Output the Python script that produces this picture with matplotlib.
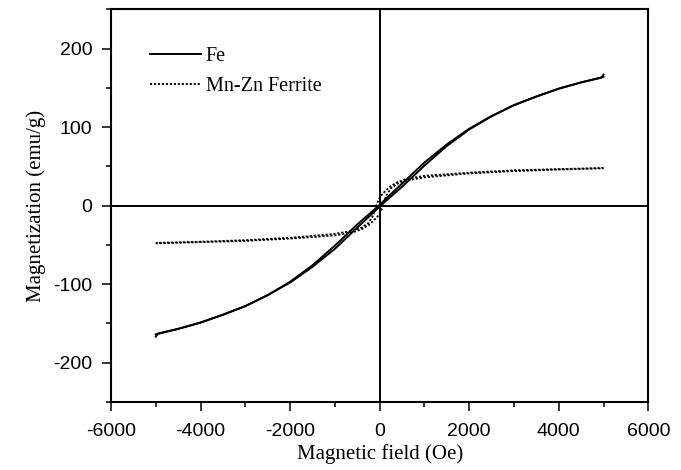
import matplotlib
matplotlib.use("Agg")
import matplotlib.pyplot as plt
import numpy as np

plt.rcParams["axes.unicode_minus"] = False

# Fe hysteresis, ascending branch (field in Oe, magnetization in emu/g)
fe_h = [-5000, -4950, -4500, -4000, -3500, -3000, -2500, -2000, -1500, -1000,
        -500, -200, 0, 200, 500, 1000, 1500, 2000, 2500, 3000, 3500, 4000,
        4500, 5000]
fe_m = [-167, -163, -157, -149, -139, -128, -114, -98, -78, -55,
        -28, -12, -1, 9, 24, 51, 76, 97, 114, 128, 139, 149,
        157, 164]

# Mn-Zn ferrite hysteresis, ascending branch
mz_h = [-5000, -4000, -3000, -2000, -1000, -600, -400, -250, -150, -50,
        0, 50, 100, 150, 250, 400, 600, 1000, 2000, 3000, 4000, 5000]
mz_m = [-48, -46.5, -45, -42, -38, -34, -30, -25, -20, -14,
        -10, -4, 5, 13, 22, 28, 32, 36, 41, 44, 46, 47.5]

SERIF = "Liberation Serif"
SANS = "Liberation Sans"
DOTS = (0, (1.2, 1.0))

fig = plt.figure(figsize=(6.81, 4.70), dpi=100)
ax = fig.add_axes([0.163, 0.145, 0.789, 0.835])

# descending branch = point reflection of the ascending one
fe_h_a, fe_m_a = np.asarray(fe_h, float), np.asarray(fe_m, float)
ax.plot(fe_h_a, fe_m_a, color="black", lw=1.4, label="Fe")
ax.plot(-fe_h_a, -fe_m_a, color="black", lw=1.4)

mz_h_a, mz_m_a = np.asarray(mz_h, float), np.asarray(mz_m, float)
ax.plot(mz_h_a, mz_m_a, color="black", lw=1.3, linestyle=DOTS,
        label="Mn-Zn Ferrite")
ax.plot(-mz_h_a, -mz_m_a, color="black", lw=1.3, linestyle=DOTS)

ax.axhline(0, color="black", lw=1.4, zorder=0)
ax.axvline(0, color="black", lw=1.4, zorder=0)

ax.set_xlim(-6000, 6000)
ax.set_ylim(-250, 250)
ax.set_xticks(np.arange(-6000, 6001, 2000))
ax.set_xticks(np.arange(-5000, 6000, 2000), minor=True)
ax.set_yticks([-200, -100, 0, 100, 200])
ax.set_yticks([-250, -150, -50, 50, 150, 250], minor=True)

for s in ax.spines.values():
    s.set_linewidth(1.5)

ax.tick_params(which="major", direction="out", length=6.5, width=1.1,
               labelsize=14)
ax.tick_params(which="minor", direction="out", length=3.6, width=1.1)
ax.tick_params(axis="x", which="major", pad=9)
ax.tick_params(axis="y", which="major", pad=7)
for lab in ax.get_xticklabels() + ax.get_yticklabels():
    lab.set_fontfamily(SANS)

ax.set_xlabel("Magnetic field (Oe)", fontsize=15, family=SERIF, labelpad=3)
ax.set_ylabel("Magnetization (emu/g)", fontsize=15, family=SERIF, labelpad=5)

ax.legend(loc="upper left", bbox_to_anchor=(0.073, 0.905), frameon=False,
          prop={"family": SERIF, "size": 14.5}, handlelength=2.5,
          handletextpad=0.25, labelspacing=0.55, borderaxespad=0,
          borderpad=0)

fig.savefig("out.png", dpi=100)
